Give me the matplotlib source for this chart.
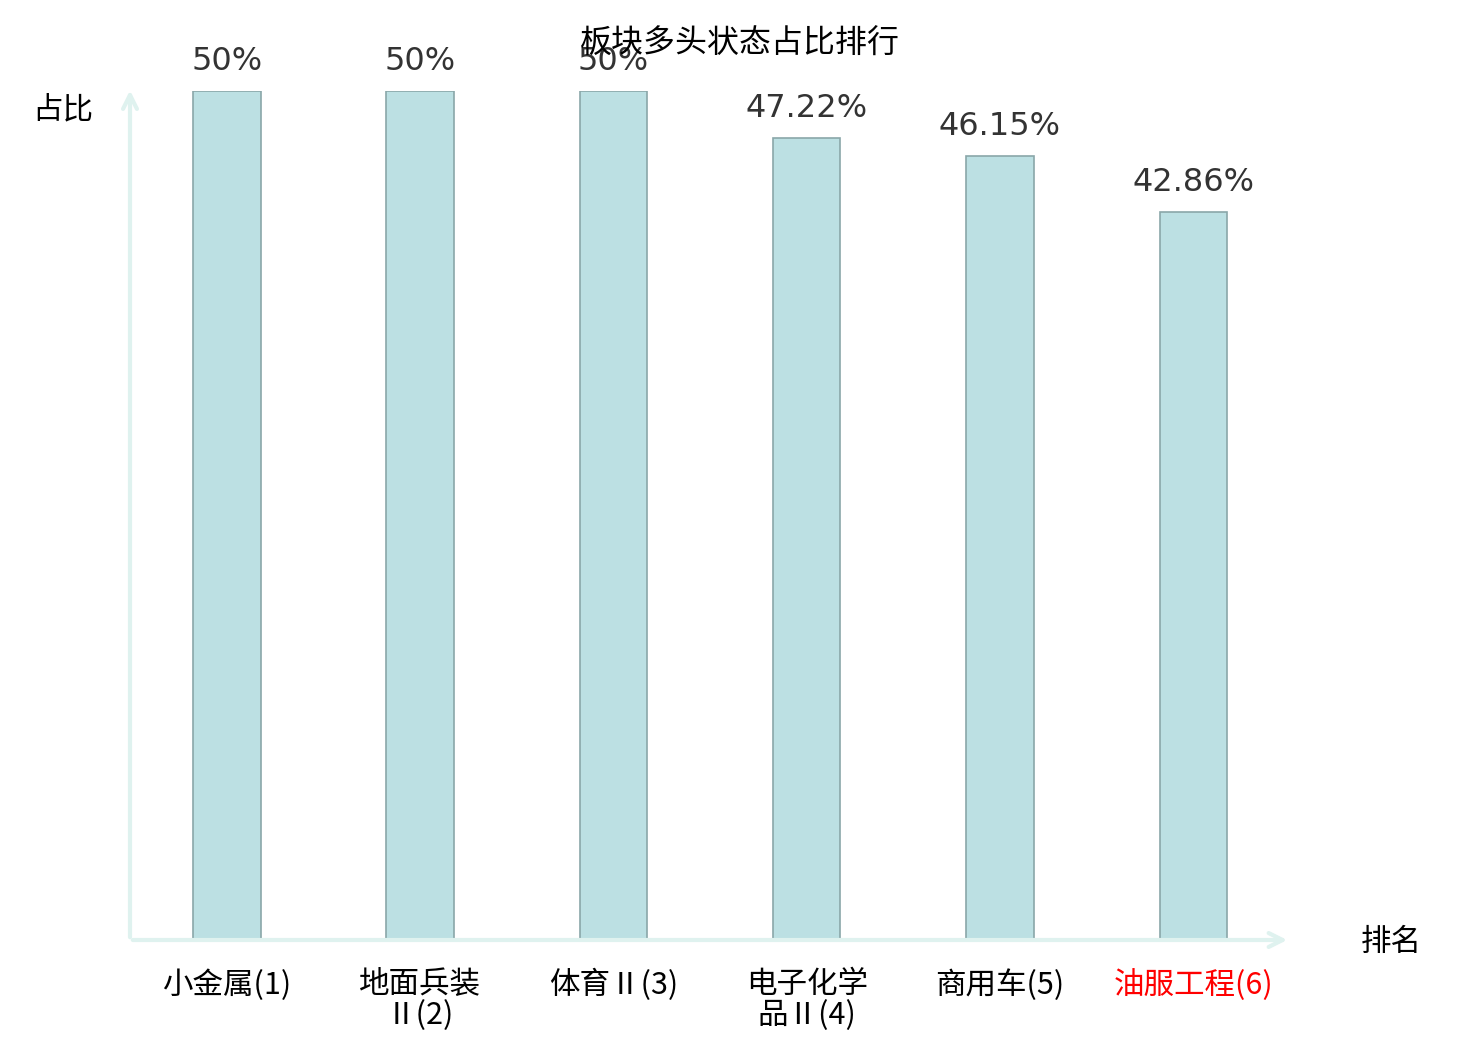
import matplotlib
matplotlib.use("Agg")
import matplotlib.pyplot as plt

plt.rcParams['font.family'] = ['Noto Sans CJK SC', 'DejaVu Sans']

# chart data
categories = ['小金属(1)', '地面兵装\nⅡ(2)', '体育Ⅱ(3)', '电子化学\n品Ⅱ(4)', '商用车(5)', '油服工程(6)']
values = [50, 50, 50, 47.22, 46.15, 42.86]
value_labels = ['50%', '50%', '50%', '47.22%', '46.15%', '42.86%']
label_colors = ['black', 'black', 'black', 'black', 'black', 'red']

fig = plt.figure(figsize=(14.8, 10.4), dpi=100)
ax = fig.add_axes([130 / 1480, 100 / 1040, 1160 / 1480, 849 / 1040])

x = list(range(len(categories)))
bars = ax.bar(x, values, width=0.35, color='#bce0e3', edgecolor='#8aa7a9', linewidth=1.2, zorder=2)

for b, lab in zip(bars, value_labels):
    ax.annotate(lab, (b.get_x() + b.get_width() / 2, b.get_height()),
                xytext=(0, 10), textcoords='offset points',
                ha='center', va='bottom', fontsize=23, color='#333333',
                family='DejaVu Sans')

ax.set_xlim(-0.5, 5.5)
ax.set_ylim(0, 50)
for s in ax.spines.values():
    s.set_visible(False)
ax.set_yticks([])
ax.set_xticks(x)
ax.set_xticklabels(categories, fontsize=22, linespacing=1.0)
for t, c in zip(ax.get_xticklabels(), label_colors):
    t.set_color(c)
ax.tick_params(axis='x', length=0, pad=21)

# axis arrows
axis_col = '#dff2ef'
ax.annotate('', xy=(1.0, 0), xytext=(0, 0), xycoords='axes fraction',
            arrowprops=dict(arrowstyle='->,head_length=1.0,head_width=0.5', color=axis_col, lw=3),
            annotation_clip=False)
ax.annotate('', xy=(0, 1.004), xytext=(0, 0), xycoords='axes fraction',
            arrowprops=dict(arrowstyle='->,head_length=1.0,head_width=0.5', color=axis_col, lw=3),
            annotation_clip=False)

fig.text(63 / 1480, 1 - 110 / 1040, '占比', fontsize=22, ha='center', va='center')
fig.text(1391 / 1480, 1 - 942 / 1040, '排名', fontsize=22, ha='center', va='center')
fig.text(740 / 1480, 1 - 44 / 1040, '板块多头状态占比排行', fontsize=23, ha='center', va='center')

fig.savefig('out.png', dpi=100)
